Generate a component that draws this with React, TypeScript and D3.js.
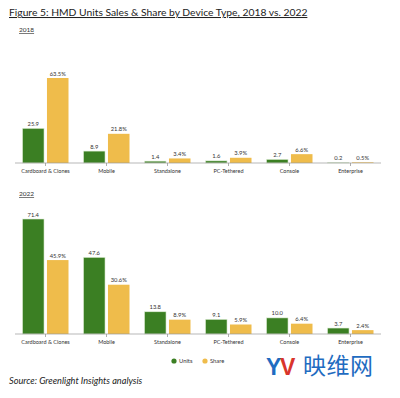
import * as d3 from "d3";

const categories = ["Cardboard & Clones", "Mobile", "Standalone", "PC-Tethered", "Console", "Enterprise"];
const series = ["Units", "Share"];
const units2018 = [25.9, 8.9, 1.4, 1.6, 2.7, 0.2];
const share2018 = [63.5, 21.8, 3.4, 3.9, 6.6, 0.5];
const units2022 = [71.4, 47.6, 13.8, 9.1, 10.0, 3.7];
const share2022 = [45.9, 30.6, 8.9, 5.9, 6.4, 2.4];

const GREEN = "#3b7f23";
const YELLOW = "#efbc4b";
const FONT = "Lato, 'Open Sans', sans-serif";

const x = d3.scaleBand<string>().domain(categories).range([15, 381]);
const sub = d3.scaleBand<string>().domain(series).range([-23, 23]).paddingInner(0.12);

function Panel({ units, share, base, top, maxVal, year, yearY }: any) {
  const y = d3.scaleLinear().domain([0, maxVal]).range([base, top]);
  const rows = categories.map((c, i) => ({ c, vals: [units[i], share[i]] }));
  return (
    <g>
      <text x={19} y={yearY} fontSize={6.5} fill="#333" fontFamily={FONT} textDecoration="underline">{year}</text>
      {rows.map((r) => {
        const cx = x(r.c)! + x.bandwidth() / 2;
        return (
          <g key={r.c}>
            {r.vals.map((v: number, j: number) => {
              const s = series[j];
              const bx = cx + sub(s)!;
              return (
                <g key={s}>
                  <rect x={bx} y={y(v)} width={sub.bandwidth()} height={base - y(v)}
                    fill={j === 0 ? GREEN : YELLOW} stroke={j === 0 ? "#dfeed6" : "none"} strokeWidth={0.6} />
                  <text x={bx + sub.bandwidth() / 2} y={y(v) - 2.5} textAnchor="middle" fontSize={5.8}
                    fill="#333" fontFamily={FONT}>{j === 0 ? v.toFixed(1) : v.toFixed(1) + "%"}</text>
                </g>
              );
            })}
            <line x1={cx} x2={cx} y1={base} y2={base + 3} stroke="#777" strokeWidth={0.6} />
            <text x={cx} y={base + 9.5} textAnchor="middle" fontSize={5.5} fill="#333" fontFamily={FONT}>{r.c}</text>
          </g>
        );
      })}
      <line x1={x.range()[0]} x2={x.range()[1]} y1={base} y2={base} stroke="#999" strokeWidth={0.7} />
    </g>
  );
}

export default function App() {
  return (
    <svg width={400} height={398} style={{ position: "absolute", left: 0, top: 0, background: "#fff" }}>
      <text x={9} y={16} fontSize={10.3} fill="#222" fontFamily={FONT} textDecoration="underline">
        Figure 5: HMD Units Sales &amp; Share by Device Type, 2018 vs. 2022
      </text>
      <Panel units={units2018} share={share2018} base={163} top={78} maxVal={63.5} year="2018" yearY={32} />
      <Panel units={units2022} share={share2022} base={334} top={219} maxVal={71.4} year="2022" yearY={196} />
      {series.map((s, i) => (
        <g key={s} transform={`translate(${174 + i * 31},361)`}>
          <circle r={2.6} fill={i === 0 ? GREEN : YELLOW} />
          <text x={5} y={2.2} fontSize={5.8} fill="#333" fontFamily={FONT}>{s}</text>
        </g>
      ))}
      <text x={9} y={384} fontSize={9.2} fontStyle="italic" fill="#222" fontFamily={FONT}>
        Source: Greenlight Insights analysis
      </text>
      <g fontFamily="Arial, 'Liberation Sans', sans-serif" fontWeight="900" fontSize={23}>
        <text x={266} y={375} fill="#1f6cc1">Y</text>
        <text x={280} y={375} fill="#d9352b">V</text>
      </g>
      <text x={303} y={374} fontSize={23} letterSpacing={0.5} fill="#1f6cc1" fontFamily="'Noto Sans CJK SC', sans-serif">映维网</text>
    </svg>
  );
}
